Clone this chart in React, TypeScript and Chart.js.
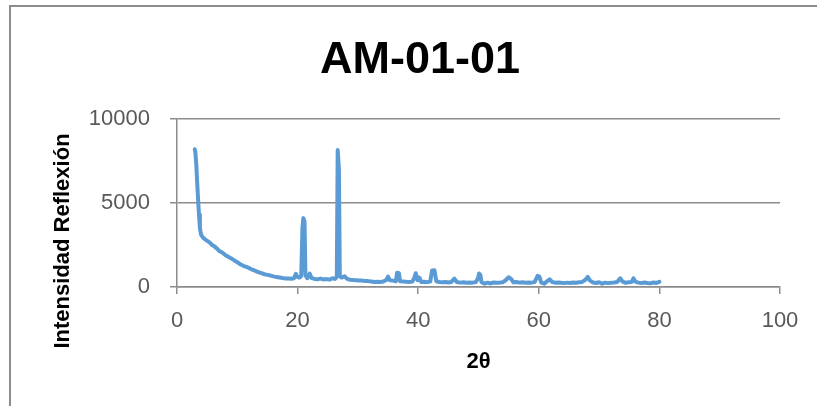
import React, { useEffect, useRef } from "react";
import { Chart, registerables } from "chart.js";

Chart.register(...registerables);

const chartTitle = "AM-01-01";
const xAxisTitle = "2θ";
const yAxisTitle = "Intensidad Reflexión";
const xTickValues = [0, 20, 40, 60, 80, 100];
const yTickValues = [0, 5000, 10000];

const twoTheta = [
  2.95, 3.05, 3.2, 3.35, 3.5, 3.65, 3.8, 4.0, 4.3, 4.6, 5.0, 5.4, 5.8, 6.2, 6.6, 7.0, 7.5, 8.0, 8.5, 9.0,
  9.5, 10.0, 10.5, 11.0, 11.5, 12.0, 12.5, 13.0, 13.5, 14.0, 14.5, 15.0, 15.5, 16.0, 16.5, 17.0, 17.5, 18.0,
  18.5, 19.0, 19.4, 19.7, 20.0, 20.3, 20.6, 20.8, 20.95, 21.15, 21.3, 21.6, 22.0, 22.3, 22.8, 23.3, 23.8,
  24.3, 24.8, 25.3, 25.8, 26.2, 26.5, 26.65, 26.85, 27.0, 27.3, 27.8, 28.2, 28.7, 29.2, 29.7, 30.2, 30.7,
  31.2, 31.7, 32.2, 32.7, 33.2, 33.7, 34.2, 34.7, 35.0, 35.3, 35.8, 36.3, 36.5, 36.8, 37.0, 37.5, 38.0,
  38.5, 39.0, 39.3, 39.6, 39.9, 40.2, 40.5, 41.0, 41.5, 42.0, 42.3, 42.7, 43.0, 43.5, 44.0, 44.5, 45.0,
  45.5, 46.0, 46.4, 47.0, 47.5, 48.0, 48.5, 49.0, 49.5, 49.9, 50.1, 50.3, 50.5, 51.0, 51.5, 52.0, 52.5,
  53.0, 53.5, 54.0, 54.5, 55.0, 55.4, 55.8, 56.3, 56.8, 57.3, 57.8, 58.3, 58.8, 59.3, 59.8, 60.1, 60.4,
  60.9, 61.4, 61.8, 62.2, 62.7, 63.2, 63.7, 64.2, 64.7, 65.2, 65.7, 66.2, 66.7, 67.2, 67.7, 68.1, 68.5,
  69.0, 69.5, 70.0, 70.5, 71.0, 71.5, 72.0, 72.5, 73.0, 73.5, 73.9, 74.4, 74.9, 75.4, 75.7, 76.0, 76.5,
  77.0, 77.5, 78.0, 78.5, 79.0, 79.5, 80.0,
];

const intensity = [
  8200, 8000, 7300, 6200, 5200, 4300, 3500, 3100, 2950, 2850, 2750, 2650, 2500, 2420, 2300, 2150, 2050, 1900, 1800, 1700,
  1580, 1480, 1350, 1260, 1200, 1120, 1030, 960, 880, 820, 760, 720, 680, 630, 590, 560, 530, 510,
  500, 490, 520, 780, 600, 560, 640, 3500, 4100, 3900, 700, 520, 800, 540, 480, 460, 500,
  450, 470, 440, 520, 480, 600, 8150, 7000, 650, 560, 640, 480, 430, 410, 400, 390, 380,
  360, 350, 330, 300, 310, 300, 330, 420, 620, 400, 380, 340, 850, 820, 340, 330, 310,
  300, 320, 500, 820, 400, 560, 300, 310, 290, 320, 980, 1000, 340, 300, 280, 300, 270,
  300, 500, 300, 260, 280, 250, 270, 260, 280, 500, 800, 720, 280, 200, 260, 210, 270,
  250, 260, 280, 400, 580, 480, 280, 300, 260, 280, 250, 270, 260, 290, 660, 620, 260,
  200, 350, 460, 300, 260, 270, 250, 230, 260, 240, 270, 250, 280, 300, 420, 600, 380,
  270, 240, 280, 200, 260, 230, 250, 270, 300, 520, 320, 250, 280, 300, 520, 320, 260,
  230, 270, 240, 220, 270, 240, 310,
];

const FONT = "'Liberation Sans', Arial, sans-serif";

export default function App() {
  const canvasRef = useRef<HTMLCanvasElement | null>(null);

  useEffect(() => {
    const canvas = canvasRef.current;
    if (!canvas) return;

    const decorPlugin = {
      id: "decor",
      beforeDraw(chart: any) {
        const ctx = chart.ctx;
        ctx.save();
        ctx.fillStyle = "#ffffff";
        ctx.fillRect(0, 0, chart.width, chart.height);
        ctx.strokeStyle = "#8c8c8c";
        ctx.lineWidth = 2;
        ctx.strokeRect(10, 6, chart.width + 20, chart.height + 20);
        ctx.restore();
      },
      afterDraw(chart: any) {
        const ctx = chart.ctx;
        const area = chart.chartArea;
        ctx.save();
        ctx.fillStyle = "#000000";
        ctx.textAlign = "center";
        ctx.textBaseline = "middle";
        ctx.font = `bold 45px ${FONT}`;
        ctx.fillText(chartTitle, 420, 61);
        ctx.font = `bold 22px ${FONT}`;
        ctx.fillText(xAxisTitle, (area.left + area.right) / 2, 362);
        ctx.translate(63, 241);
        ctx.rotate(-Math.PI / 2);
        ctx.fillText(yAxisTitle, 0, 0);
        ctx.restore();
      },
    };

    const chart = new Chart(canvas, {
      type: "line",
      data: {
        datasets: [
          {
            data: twoTheta.map((x, i) => ({ x, y: intensity[i] })),
            borderColor: "#5B9BD5",
            borderWidth: 4,
            borderJoinStyle: "round",
            borderCapStyle: "round",
            pointRadius: 0,
            tension: 0,
            fill: false,
          },
        ],
      },
      options: {
        responsive: false,
        animation: false,
        layout: { padding: { top: 119, right: 37, left: 0, bottom: 0 } },
        plugins: { legend: { display: false }, tooltip: { enabled: false }, title: { display: false } },
        scales: {
          x: {
            type: "linear",
            min: 0,
            max: 100,
            afterBuildTicks: (scale: any) => {
              scale.ticks = xTickValues.map((v) => ({ value: v }));
            },
            afterFit: (scale: any) => {
              scale.height = 119;
            },
            ticks: {
              color: "#595959",
              font: { family: FONT, size: 22 },
              padding: 14,
              maxRotation: 0,
              callback: (v: any) => String(v),
            },
            grid: {
              display: true,
              drawOnChartArea: false,
              drawTicks: true,
              tickLength: 7,
              color: "#8c8c8c",
              lineWidth: 1.5,
            },
            border: { display: true, color: "#8c8c8c", width: 1.5 },
          },
          y: {
            type: "linear",
            min: 0,
            max: 10000,
            afterBuildTicks: (scale: any) => {
              scale.ticks = yTickValues.map((v) => ({ value: v }));
            },
            afterFit: (scale: any) => {
              scale.width = 177;
            },
            ticks: {
              color: "#595959",
              font: { family: FONT, size: 22 },
              padding: 20,
              callback: (v: any) => String(v),
            },
            grid: {
              display: true,
              drawTicks: true,
              tickLength: 7,
              color: "#8c8c8c",
              lineWidth: 1.5,
            },
            border: { display: true, color: "#8c8c8c", width: 1.5 },
          },
        },
      },
      plugins: [decorPlugin],
    });

    return () => chart.destroy();
  }, []);

  return (
    <div style={{ position: "fixed", left: 0, top: 0, width: 817, height: 406 }}>
      <canvas ref={canvasRef} width={817} height={406} style={{ display: "block", width: 817, height: 406 }} />
    </div>
  );
}
